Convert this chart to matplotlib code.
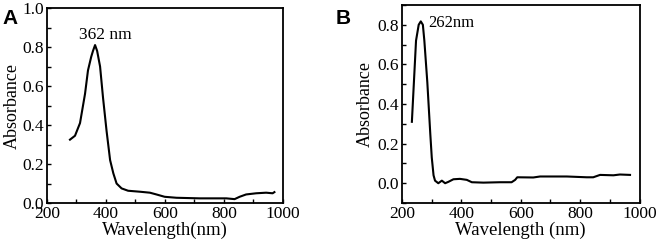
import matplotlib
matplotlib.use("Agg")
import matplotlib.pyplot as plt
from matplotlib.ticker import MultipleLocator

plt.rc('font', family='Liberation Serif', size=12.5)

# panel A spectrum
wl_a = [278, 295, 312, 329, 339, 350, 356, 363, 370, 380, 390, 402, 414, 425, 436, 453,
        475, 515, 549, 571, 599, 639, 718, 808, 836, 853, 875, 909, 943, 965, 971]
abs_a = [0.325, 0.345, 0.41, 0.56, 0.68, 0.75, 0.78, 0.81, 0.78, 0.70, 0.54, 0.37, 0.22, 0.152, 0.10, 0.075,
         0.063, 0.058, 0.053, 0.044, 0.032, 0.027, 0.024, 0.024, 0.02, 0.032, 0.044, 0.05, 0.053, 0.05, 0.056]

# panel B spectrum
wl_b = [233, 247, 256, 263, 270, 275, 285, 295, 300, 306, 311, 322, 334, 345, 356,
        373, 395, 418, 435, 474, 530, 569, 581, 588, 642, 665, 755, 822, 844, 867, 912, 934, 968]
abs_b = [0.31, 0.72, 0.80, 0.817, 0.80, 0.72, 0.51, 0.25, 0.13, 0.04, 0.013, 0.0, 0.013, 0.0, 0.007,
         0.02, 0.022, 0.017, 0.005, 0.003, 0.005, 0.005, 0.017, 0.03, 0.029, 0.034, 0.034, 0.03, 0.03, 0.042, 0.04, 0.044, 0.042]

fig = plt.figure(figsize=(6.57, 2.47), dpi=100)
ax1 = fig.add_axes([0.0715, 0.178, 0.3592, 0.7896])
ax2 = fig.add_axes([0.612, 0.178, 0.3614, 0.802])

for ax in (ax1, ax2):
    ax.set_xlim(200, 1000)
    ax.xaxis.set_major_locator(MultipleLocator(200))
    ax.xaxis.set_minor_locator(MultipleLocator(100))
    ax.yaxis.set_major_locator(MultipleLocator(0.2))
    ax.yaxis.set_minor_locator(MultipleLocator(0.1))
    ax.tick_params(which='both', direction='in', length=3, width=1, pad=2,
                   top=False, right=False, labelsize=12.5)
    for s in ax.spines.values():
        s.set_linewidth(1.3)

ax1.plot(wl_a, abs_a, color='black', linewidth=1.5)
ax1.set_ylim(0, 1.0)
ax1.set_yticks([0.0, 0.2, 0.4, 0.6, 0.8, 1.0])
ax1.set_yticklabels(['0.0', '0.2', '0.4', '0.6', '0.8', '1.0'])
ax1.set_xlabel('Wavelength(nm)', fontsize=13.5, labelpad=0)
ax1.set_ylabel('Absorbance', fontsize=13, labelpad=1)
ax1.text(398, 0.86, '362 nm', ha='center', va='center', fontsize=12.5)

ax2.plot(wl_b, abs_b, color='black', linewidth=1.5)
ax2.set_ylim(-0.1, 0.9)
ax2.set_yticks([0.0, 0.2, 0.4, 0.6, 0.8])
ax2.set_xlabel('Wavelength (nm)', fontsize=13.5, labelpad=0)
ax2.set_ylabel('Absorbance', fontsize=13, labelpad=3)
ax2.text(365, 0.81, '262nm', ha='center', va='center', fontsize=12)

fig.text(0.004, 0.965, 'A', fontsize=15, fontweight='bold', family='Liberation Sans', va='top')
fig.text(0.511, 0.965, 'B', fontsize=15, fontweight='bold', family='Liberation Sans', va='top')

plt.savefig('out.png', dpi=100)
